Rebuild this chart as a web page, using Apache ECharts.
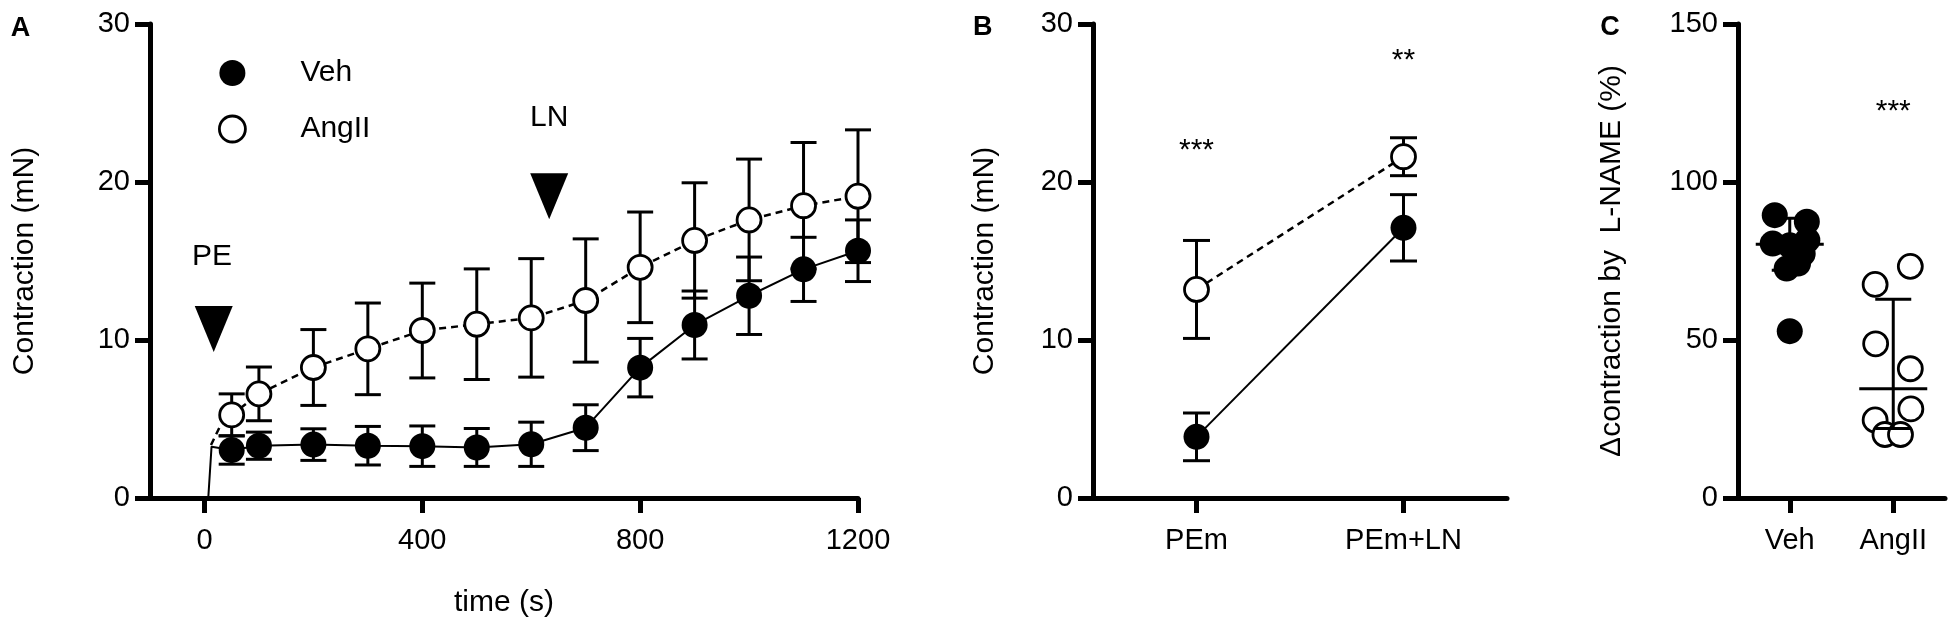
<!DOCTYPE html>
<html>
<head>
<meta charset="utf-8">
<script src="https://cdn.jsdelivr.net/npm/echarts@6/dist/echarts.min.js"></script>
<style>
html,body{margin:0;padding:0;background:#fff;}
#chart{width:1949px;height:629px;}
</style>
</head>
<body>
<div id="chart"></div>
<script>
// ---------- Panel A: time course ----------
const timeA = [50, 100, 200, 300, 400, 500, 600, 700, 800, 900, 1000, 1100, 1200];
const vehA = [3.04, 3.31, 3.38, 3.31, 3.28, 3.2, 3.4, 4.45, 8.25, 10.95, 12.8, 14.47, 15.65];
const vehAErr = [0.9, 0.86, 1.0, 1.22, 1.28, 1.2, 1.4, 1.45, 1.85, 2.15, 2.45, 2.03, 1.95];
const angA = [5.26, 6.59, 8.26, 9.44, 10.6, 11.0, 11.4, 12.5, 14.6, 16.3, 17.6, 18.5, 19.1];
const angAErr = [1.33, 1.7, 2.4, 2.9, 3.0, 3.5, 3.75, 3.9, 3.5, 3.65, 3.85, 4.0, 4.2];
// start of the continuous recordings (before first sample point)
const vehTraceLead = [[7, 0], [13, 3.25]];
const angTraceLead = [[12, 3.35], [28, 4.5]];
const xTicksA = [0, 400, 800, 1200];
// drug additions: [time, arrow value, label value]
const peMark = [17, 10.7, 15.25];
const lnMark = [633, 19.1, 24.05];

// ---------- Panel B ----------
const catB = ['PEm', 'PEm+LN'];
const vehB = [3.87, 17.1];
const vehBErr = [1.51, 2.1];
const angB = [13.2, 21.6];
const angBErr = [3.1, 1.2];
const starsB = ['***', '**'];
const starsBY = [22.0, 27.7];

// ---------- Panel C ----------
const catC = ['Veh', 'AngII'];
const vehC = [89.5, 87.4, 81.6, 80.5, 80.0, 77.3, 74.2, 72.6, 52.8];
const vehCJitter = [-0.145, 0.165, 0.17, -0.165, 0.0, 0.125, 0.08, -0.03, 0.0];
const angC = [73.3, 67.6, 48.8, 40.9, 28.2, 24.7, 20.1, 20.1];
const angCJitter = [0.165, -0.175, -0.17, 0.165, 0.17, -0.175, -0.08, 0.07];
// [center, low whisker, high whisker]
const vehCSummary = [80.3, 72.1, 88.5];
const angCSummary = [34.6, 22.0, 62.9];
const starsCY = 122.1;

const FONT = '"Liberation Sans", Arial, Helvetica, sans-serif';
const BLACK = '#000';

function errBarRender(capHalf) {
  return function (params, api) {
    const x = api.value(0), y = api.value(1), e = api.value(2);
    const hi = api.coord([x, y + e]);
    const lo = api.coord([x, y - e]);
    const st = { stroke: BLACK, lineWidth: 3, fill: null };
    return {
      type: 'group',
      children: [
        { type: 'line', shape: { x1: hi[0], y1: hi[1], x2: lo[0], y2: lo[1] }, style: st },
        { type: 'line', shape: { x1: hi[0] - capHalf, y1: hi[1], x2: hi[0] + capHalf, y2: hi[1] }, style: st },
        { type: 'line', shape: { x1: lo[0] - capHalf, y1: lo[1], x2: lo[0] + capHalf, y2: lo[1] }, style: st }
      ]
    };
  };
}

function summaryRender(params, api) {
  const x = api.value(0), c = api.value(1), lo = api.value(2), hi = api.value(3);
  const pc = api.coord([x, c]);
  const pl = api.coord([x, lo]);
  const ph = api.coord([x, hi]);
  const st = { stroke: BLACK, lineWidth: 3, fill: null };
  const meanHalf = 34, capHalf = 18;
  return {
    type: 'group',
    children: [
      { type: 'line', shape: { x1: ph[0], y1: ph[1], x2: pl[0], y2: pl[1] }, style: st },
      { type: 'line', shape: { x1: pc[0] - meanHalf, y1: pc[1], x2: pc[0] + meanHalf, y2: pc[1] }, style: st },
      { type: 'line', shape: { x1: ph[0] - capHalf, y1: ph[1], x2: ph[0] + capHalf, y2: ph[1] }, style: st },
      { type: 'line', shape: { x1: pl[0] - capHalf, y1: pl[1], x2: pl[0] + capHalf, y2: pl[1] }, style: st }
    ]
  };
}

const axisLineStyle = { show: true, onZero: false, lineStyle: { color: BLACK, width: 5 } };
const axisTickStyle = { show: true, length: 15, lineStyle: { color: BLACK, width: 5 } };
const labelStyle = { color: BLACK, fontSize: 29, fontFamily: FONT };
const nameStyle = { color: BLACK, fontSize: 30, fontFamily: FONT };

const filled = { color: BLACK, opacity: 1 };
const open = { color: '#fff', borderColor: BLACK, borderWidth: 2.8, opacity: 1 };

const option = {
  animation: false,
  backgroundColor: '#fff',
  textStyle: { fontFamily: FONT },
  graphic: [
    { type: 'text', x: 20.5, y: 29, style: { text: 'A', fontSize: 27, fontWeight: 'bold', fontFamily: FONT, fill: BLACK, align: 'center', verticalAlign: 'middle' } },
    { type: 'text', x: 982.7, y: 28, style: { text: 'B', fontSize: 27, fontWeight: 'bold', fontFamily: FONT, fill: BLACK, align: 'center', verticalAlign: 'middle' } },
    { type: 'text', x: 1610, y: 28, style: { text: 'C', fontSize: 27, fontWeight: 'bold', fontFamily: FONT, fill: BLACK, align: 'center', verticalAlign: 'middle' } }
  ],
  legend: {
    orient: 'vertical',
    left: 213,
    top: 53,
    itemWidth: 26,
    itemHeight: 26,
    itemGap: 26,
    selectedMode: false,
    textStyle: { color: BLACK, fontSize: 30, fontFamily: FONT, padding: [0, 0, 0, 50] },
    data: [
      { name: 'Veh', icon: 'circle', itemStyle: filled },
      { name: 'AngII', icon: 'circle', itemStyle: open }
    ]
  },
  grid: [
    { left: 150, top: 24, width: 708, height: 474 },
    { left: 1093, top: 24, width: 414, height: 474 },
    { left: 1738, top: 24, width: 207, height: 474 }
  ],
  xAxis: [
    {
      gridIndex: 0, type: 'value', min: -100, max: 1200,
      name: 'time (s)', nameLocation: 'middle', nameGap: 90, nameTextStyle: nameStyle,
      axisLine: axisLineStyle,
      axisTick: Object.assign({ customValues: xTicksA }, axisTickStyle),
      axisLabel: Object.assign({ customValues: xTicksA, margin: 28, formatter: v => String(v) }, labelStyle),
      splitLine: { show: false }
    },
    {
      gridIndex: 1, type: 'category', data: catB, boundaryGap: true,
      axisLine: axisLineStyle,
      axisTick: Object.assign({ alignWithLabel: true, interval: 0 }, axisTickStyle),
      axisLabel: Object.assign({ margin: 28, interval: 0 }, labelStyle),
      splitLine: { show: false }
    },
    {
      gridIndex: 2, type: 'value', min: -0.5, max: 1.5,
      axisLine: axisLineStyle,
      axisTick: Object.assign({ customValues: [0, 1] }, axisTickStyle),
      axisLabel: Object.assign({ customValues: [0, 1], margin: 28, formatter: v => catC[Math.round(v)] }, labelStyle),
      splitLine: { show: false }
    }
  ],
  yAxis: [
    {
      gridIndex: 0, type: 'value', min: 0, max: 30, interval: 10,
      name: 'Contraction (mN)', nameLocation: 'middle', nameGap: 110, nameTextStyle: nameStyle,
      axisLine: axisLineStyle, axisTick: axisTickStyle,
      axisLabel: Object.assign({ margin: 20 }, labelStyle),
      splitLine: { show: false }
    },
    {
      gridIndex: 1, type: 'value', min: 0, max: 30, interval: 10,
      name: 'Contraction (mN)', nameLocation: 'middle', nameGap: 93, nameTextStyle: nameStyle,
      axisLine: axisLineStyle, axisTick: axisTickStyle,
      axisLabel: Object.assign({ margin: 20 }, labelStyle),
      splitLine: { show: false }
    },
    {
      gridIndex: 2, type: 'value', min: 0, max: 150, interval: 50,
      name: 'Δcontraction by  L-NAME (%)', nameLocation: 'middle', nameGap: 111, nameTextStyle: nameStyle,
      axisLine: axisLineStyle, axisTick: axisTickStyle,
      axisLabel: Object.assign({ margin: 20 }, labelStyle),
      splitLine: { show: false }
    }
  ],
  series: [
    // ---- Panel A ----
    {
      name: 'Veh trace', type: 'line', xAxisIndex: 0, yAxisIndex: 0,
      data: vehTraceLead.concat(timeA.map((t, i) => [t, vehA[i]])),
      showSymbol: false, symbol: 'none', z: 1,
      lineStyle: { color: BLACK, width: 2 }
    },
    {
      name: 'AngII trace', type: 'line', xAxisIndex: 0, yAxisIndex: 0,
      data: angTraceLead.concat(timeA.map((t, i) => [t, angA[i]])),
      showSymbol: false, symbol: 'none', z: 1,
      lineStyle: { color: BLACK, width: 2.5, type: [7, 5] }
    },
    {
      name: 'Veh SEM', type: 'custom', xAxisIndex: 0, yAxisIndex: 0, z: 2,
      renderItem: errBarRender(13),
      data: timeA.map((t, i) => [t, vehA[i], vehAErr[i]])
    },
    {
      name: 'AngII SEM', type: 'custom', xAxisIndex: 0, yAxisIndex: 0, z: 2,
      renderItem: errBarRender(13),
      data: timeA.map((t, i) => [t, angA[i], angAErr[i]])
    },
    {
      name: 'Veh', type: 'scatter', xAxisIndex: 0, yAxisIndex: 0, z: 4,
      symbol: 'circle', symbolSize: 26, itemStyle: filled,
      data: timeA.map((t, i) => [t, vehA[i]]),
      markPoint: {
        symbol: 'triangle', symbolRotate: 180, symbolSize: [38, 46],
        itemStyle: { color: BLACK },
        label: { show: false },
        data: [
          { coord: [peMark[0], peMark[1]] },
          { coord: [lnMark[0], lnMark[1]] },
          { coord: [peMark[0] - 3, peMark[2]], symbolSize: 0, label: { show: true, formatter: 'PE', color: BLACK, fontSize: 30, fontFamily: FONT } },
          { coord: [lnMark[0], lnMark[2]], symbolSize: 0, label: { show: true, formatter: 'LN', color: BLACK, fontSize: 30, fontFamily: FONT } }
        ]
      }
    },
    {
      name: 'AngII', type: 'scatter', xAxisIndex: 0, yAxisIndex: 0, z: 4,
      symbol: 'circle', symbolSize: 24, itemStyle: open,
      data: timeA.map((t, i) => [t, angA[i]])
    },
    // ---- Panel B ----
    {
      name: 'Veh SEM B', type: 'custom', xAxisIndex: 1, yAxisIndex: 1, z: 2,
      renderItem: errBarRender(13.5),
      data: catB.map((c, i) => [i, vehB[i], vehBErr[i]])
    },
    {
      name: 'AngII SEM B', type: 'custom', xAxisIndex: 1, yAxisIndex: 1, z: 2,
      renderItem: errBarRender(13.5),
      data: catB.map((c, i) => [i, angB[i], angBErr[i]])
    },
    {
      name: 'Veh B', type: 'line', xAxisIndex: 1, yAxisIndex: 1, z: 4,
      data: vehB, symbol: 'circle', symbolSize: 26, showSymbol: true,
      itemStyle: filled, lineStyle: { color: BLACK, width: 2 },
      markPoint: {
        symbol: 'circle', symbolSize: 0,
        label: { show: true, color: BLACK, fontSize: 30, fontFamily: FONT },
        data: catB.map((c, i) => ({ coord: [i, starsBY[i]], label: { formatter: starsB[i] } }))
      }
    },
    {
      name: 'AngII B', type: 'line', xAxisIndex: 1, yAxisIndex: 1, z: 4,
      data: angB, symbol: 'circle', symbolSize: 24, showSymbol: true,
      itemStyle: open, lineStyle: { color: BLACK, width: 2.5, type: [7, 5] }
    },
    // ---- Panel C ----
    {
      name: 'Veh C', type: 'scatter', xAxisIndex: 2, yAxisIndex: 2, z: 3,
      symbol: 'circle', symbolSize: 26, itemStyle: filled,
      data: vehC.map((v, i) => [0 + vehCJitter[i], v])
    },
    {
      name: 'AngII C', type: 'scatter', xAxisIndex: 2, yAxisIndex: 2, z: 3,
      symbol: 'circle', symbolSize: 24, itemStyle: open,
      data: angC.map((v, i) => [1 + angCJitter[i], v]),
      markPoint: {
        symbol: 'circle', symbolSize: 0,
        label: { show: true, formatter: '***', color: BLACK, fontSize: 30, fontFamily: FONT },
        data: [{ coord: [1, starsCY] }]
      }
    },
    {
      name: 'Summary C', type: 'custom', xAxisIndex: 2, yAxisIndex: 2, z: 5,
      renderItem: summaryRender,
      data: [[0].concat(vehCSummary), [1].concat(angCSummary)]
    }
  ]
};

const chart = echarts.init(document.getElementById('chart'), null, { renderer: 'canvas' });
chart.setOption(option);
</script>
</body>
</html>
